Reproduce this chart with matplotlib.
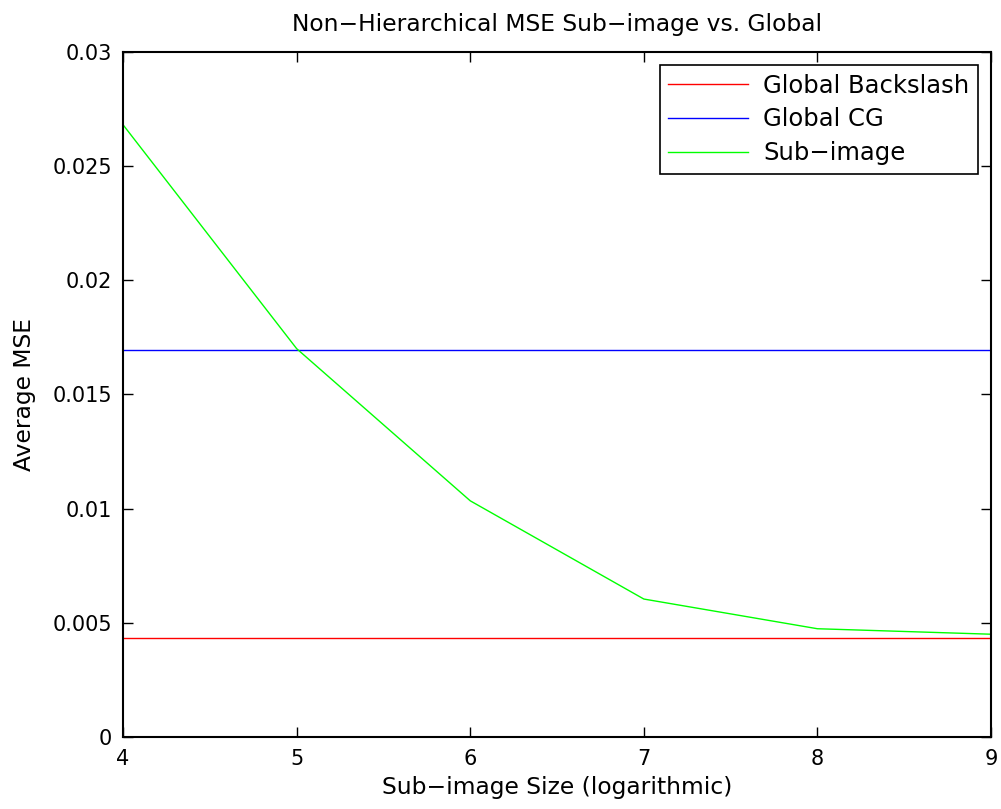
import matplotlib
matplotlib.use('Agg')
import matplotlib.pyplot as plt

# data
sizes = [4, 5, 6, 7, 8, 9]
sub_image_mse = [0.0268, 0.0170, 0.01034, 0.00604, 0.00474, 0.00450]
global_backslash = 0.00434
global_cg = 0.01696

plt.rcParams['font.family'] = ['DejaVu Sans']
plt.rcParams['font.size'] = 15

fig = plt.figure(figsize=(10.01, 8.09), dpi=100)
ax = fig.add_axes([0.123, 0.089, 0.867, 0.847])

ax.plot([sizes[0], sizes[-1]], [global_backslash] * 2, color='#ff0000', lw=1.0, label='Global Backslash')
ax.plot([sizes[0], sizes[-1]], [global_cg] * 2, color='#0000ff', lw=1.0, label='Global CG')
ax.plot(sizes, sub_image_mse, color='#00ff00', lw=1.0, label='Sub\u2212image')

ax.set_xlim(4, 9)
ax.set_ylim(0, 0.03)
ax.set_xticks(sizes)
ax.set_yticks([0, 0.005, 0.01, 0.015, 0.02, 0.025, 0.03])
ax.set_yticklabels(['0', '0.005', '0.01', '0.015', '0.02', '0.025', '0.03'])
ax.tick_params(direction='in', top=True, right=True, length=7, width=1)
ax.tick_params(axis='x', pad=9)
ax.tick_params(axis='y', pad=8)
for s in ax.spines.values():
    s.set_linewidth(1.5)

ax.set_xlabel('Sub\u2212image Size (logarithmic)', fontsize=16.8, labelpad=5)
ax.set_ylabel('Average MSE', fontsize=16.8, labelpad=12)
ax.set_title('Non\u2212Hierarchical MSE Sub\u2212image vs. Global', fontsize=16.8, pad=15)

leg = ax.legend(loc='upper right', fancybox=False, edgecolor='black', framealpha=1,
                fontsize=17.5, borderaxespad=0.55, handlelength=3.3, labelspacing=0.4,
                borderpad=0.35, handletextpad=0.6)
leg.get_frame().set_linewidth(1.2)

fig.savefig('out.png', dpi=100)
